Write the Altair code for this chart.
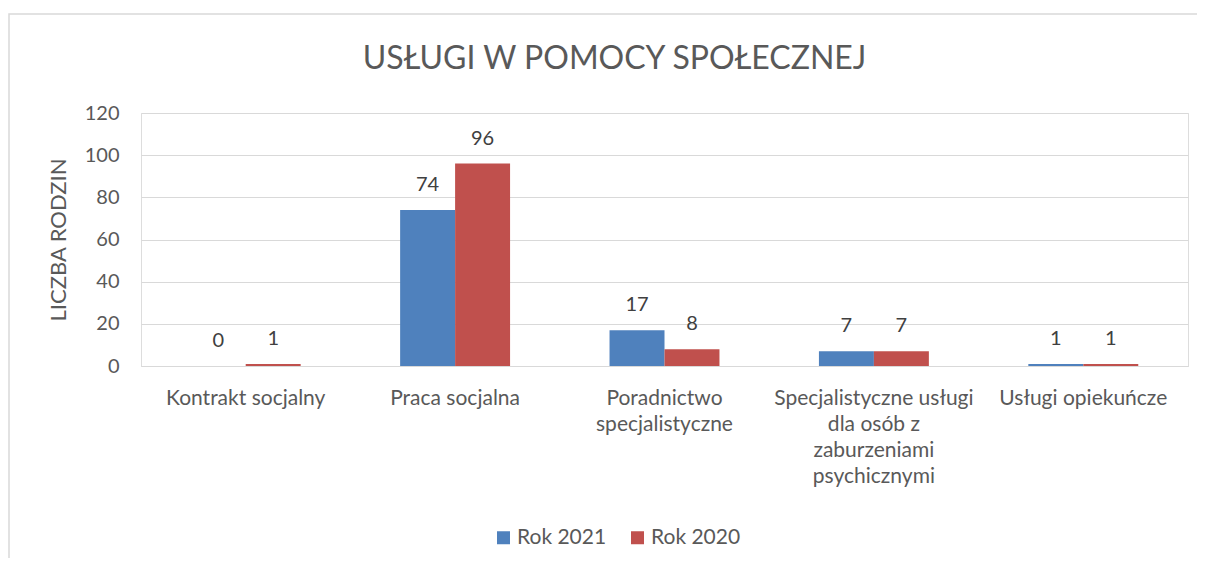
import json
import altair as alt
import pandas as pd

categories = [
    "Kontrakt socjalny",
    "Praca socjalna",
    "Poradnictwo specjalistyczne",
    "Specjalistyczne usługi dla osób z zaburzeniami psychicznymi",
    "Usługi opiekuńcze",
]
label_lines = [
    ["Kontrakt socjalny"],
    ["Praca socjalna"],
    ["Poradnictwo", "specjalistyczne"],
    ["Specjalistyczne usługi", "dla osób z", "zaburzeniami", "psychicznymi"],
    ["Usługi opiekuńcze"],
]
series = ["Rok 2021", "Rok 2020"]
values_2021 = [0, 74, 17, 7, 1]
values_2020 = [1, 96, 8, 7, 1]
colors = ["#4F81BD", "#C0504D"]
y_ticks = [0, 20, 40, 60, 80, 100, 120]

rows = []
for c, v in zip(categories, values_2021):
    rows.append({"kategoria": c, "seria": series[0], "wartosc": v})
for c, v in zip(categories, values_2020):
    rows.append({"kategoria": c, "seria": series[1], "wartosc": v})
df = pd.DataFrame(rows)

label_expr = json.dumps(label_lines[-1])
for c, lines in reversed(list(zip(categories[:-1], label_lines[:-1]))):
    label_expr = f"datum.value == {json.dumps(c)} ? {json.dumps(lines)} : ({label_expr})"

FONT = "Lato"

x_enc = alt.X(
    "kategoria:N",
    sort=categories,
    scale=alt.Scale(paddingInner=0.475, paddingOuter=0.2375),
    axis=alt.Axis(
        title=None,
        labelAngle=0,
        labelExpr=label_expr,
        labelFontSize=21,
        labelColor="#595959",
        labelFont=FONT,
        labelPadding=21,
        labelLineHeight=26,
        labelBaseline="top",
        ticks=False,
        domainColor="#D9D9D9",
        domainWidth=1,
        labelLimit=300,
    ),
)
xoff = alt.XOffset("seria:N", sort=series)

# decorative chart-area frame (light grey border like the original)
frame = alt.Chart(pd.DataFrame({"f": [0]})).mark_rect(
    fill=None, stroke="#D9D9D9", strokeWidth=1.5
).encode(
    x=alt.value(-132),
    x2=alt.value(1100),
    y=alt.value(-99),
    y2=alt.value(600),
)

bars = alt.Chart(df).mark_bar().encode(
    x=x_enc,
    xOffset=xoff,
    y=alt.Y(
        "wartosc:Q",
        scale=alt.Scale(domain=[0, 120], nice=False),
        axis=alt.Axis(
            values=y_ticks,
            title="LICZBA RODZIN",
            titleFont=FONT,
            titleFontSize=22,
            titleFontWeight="normal",
            titleColor="#595959",
            titlePadding=14,
            labelFont=FONT,
            labelFontSize=20,
            labelColor="#595959",
            labelPadding=22,
            ticks=False,
            domain=False,
            gridColor="#D9D9D9",
            gridWidth=1,
        ),
    ),
    color=alt.Color(
        "seria:N",
        sort=series,
        scale=alt.Scale(domain=series, range=colors),
        legend=alt.Legend(
            title=None,
            orient="none",
            direction="horizontal",
            legendX=352,
            legendY=414,
            symbolType="square",
            symbolSize=169,
            symbolStrokeWidth=0,
            labelFont=FONT,
            labelFontSize=21,
            labelColor="#595959",
            labelOffset=3,
            columnPadding=20,
        ),
    ),
)

texts = alt.Chart(df).mark_text(
    font=FONT, fontSize=20, color="#404040", baseline="middle", dy=-25
).encode(
    x=alt.X("kategoria:N", sort=categories),
    xOffset=xoff,
    y=alt.Y("wartosc:Q"),
    text=alt.Text("wartosc:Q"),
)

chart = (
    alt.layer(frame, bars, texts)
    .properties(
        width=1047,
        height=253,
        autosize=alt.AutoSizeParams(type="none"),
        padding={"left": 133, "top": 105, "right": 9, "bottom": 192},
        title=alt.Title(
            "USŁUGI W POMOCY SPOŁECZNEJ",
            font=FONT,
            fontSize=32,
            fontWeight="normal",
            color="#595959",
            anchor="middle",
            frame="group",
            dx=-50,
            offset=-63,
        ),
    )
    .configure_view(stroke=None)
    .configure(background="white")
)

chart.save("out.html", embed_options={"renderer": "svg", "actions": False})
